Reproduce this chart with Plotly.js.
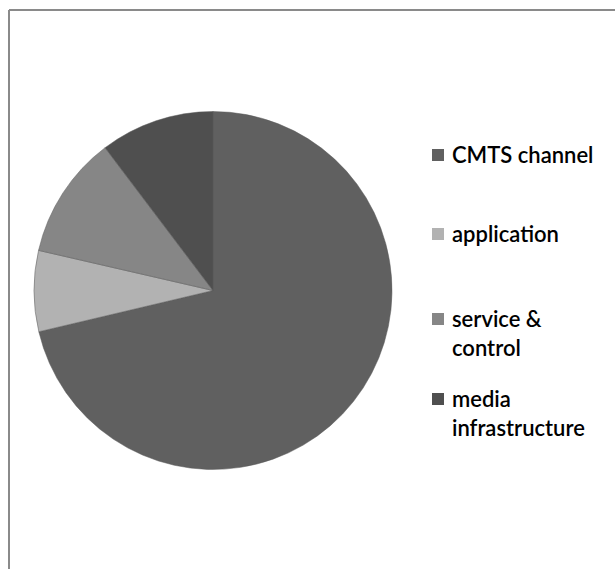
<!DOCTYPE html>
<html>
<head>
<meta charset="utf-8">
<script src="https://cdn.plot.ly/plotly-3.0.1.min.js"></script>
<style>
  html, body { margin: 0; padding: 0; background: #ffffff; }
  #chart { width: 615px; height: 569px; }
</style>
</head>
<body>
<div id="chart"></div>
<script>
// ---- data ----
const categories = ['CMTS channel', 'application', 'service & control', 'media infrastructure'];
const legendText = ['CMTS channel', 'application', 'service &<br>control', 'media<br>infrastructure'];
const shares = [71.3, 7.3, 11.1, 10.3];
const sliceColors = ['#606060', '#b2b2b2', '#868686', '#4f4f4f'];

// ---- layout constants (pixels) ----
const W = 615, H = 569;
const px = x => x / W;
const py = y => 1 - y / H;
const pieCx = 213, pieCy = 290.5, pieR = 179;
const legendSquareX = 432, legendSquareSize = 12, legendTextX = 450;
const legendLineCenters = [154, 233, 318, 398];

const shapes = [
  // frame (top + left edges visible; right/bottom cropped)
  { type: 'line', xref: 'paper', yref: 'paper', x0: px(9), x1: px(9), y0: py(H), y1: py(10),
    line: { color: '#8a8a8a', width: 2 } },
  { type: 'line', xref: 'paper', yref: 'paper', x0: px(9), x1: px(W), y0: py(10), y1: py(10),
    line: { color: '#8a8a8a', width: 2 } }
];
const annotations = [];
categories.forEach((c, i) => {
  const cy = legendLineCenters[i];
  shapes.push({
    type: 'rect', xref: 'paper', yref: 'paper',
    x0: px(legendSquareX), x1: px(legendSquareX + legendSquareSize),
    y0: py(cy + 1 + legendSquareSize / 2), y1: py(cy + 1 - legendSquareSize / 2),
    fillcolor: sliceColors[i], line: { width: 0 }
  });
  annotations.push({
    xref: 'paper', yref: 'paper', x: px(legendTextX), y: py(cy - 15.3),
    xanchor: 'left', yanchor: 'top', align: 'left', showarrow: false,
    text: legendText[i],
    font: { family: 'Lato, "Noto Sans", sans-serif', size: 22, color: '#000000', weight: 600 }
  });
});

const trace = {
  type: 'pie',
  labels: categories,
  values: shares,
  sort: false,
  direction: 'clockwise',
  rotation: 0,
  textinfo: 'none',
  hoverinfo: 'label+percent',
  marker: { colors: sliceColors, line: { color: '#5a5a5a', width: 0.5 } },
  domain: { x: [px(pieCx - pieR), px(pieCx + pieR)], y: [py(pieCy + pieR), py(pieCy - pieR)] },
  showlegend: false
};

const layout = {
  width: W, height: H,
  margin: { l: 0, r: 0, t: 0, b: 0 },
  paper_bgcolor: '#ffffff',
  plot_bgcolor: '#ffffff',
  showlegend: false,
  shapes: shapes,
  annotations: annotations
};

Plotly.newPlot('chart', [trace], layout, { staticPlot: true, displayModeBar: false });
</script>
</body>
</html>
